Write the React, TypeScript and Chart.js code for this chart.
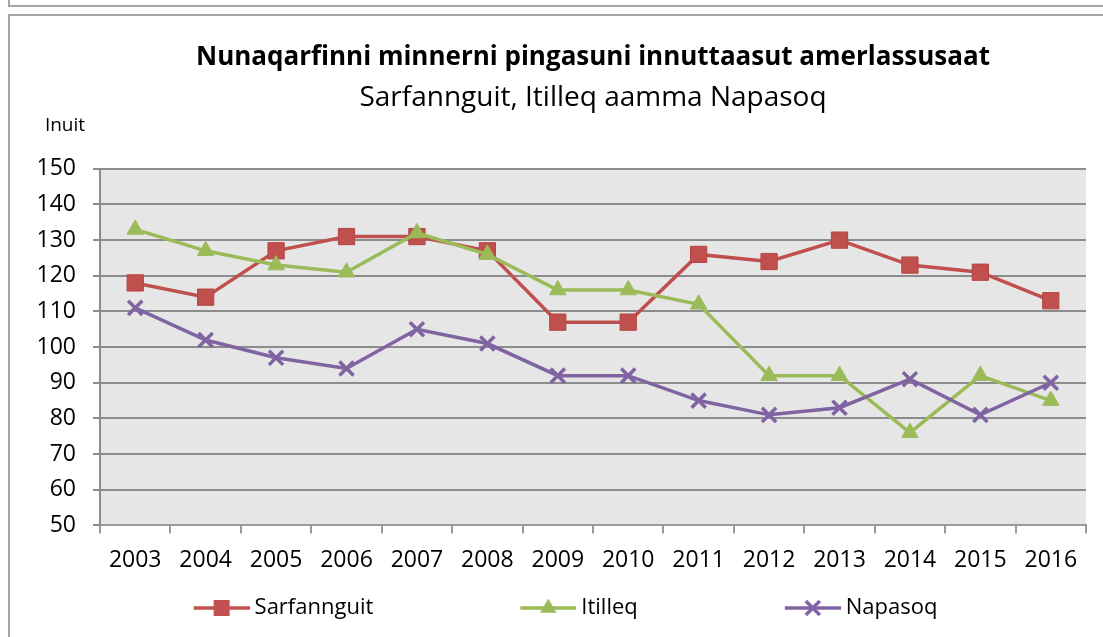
import React, { useEffect, useRef } from "react";
import { Chart, registerables } from "chart.js";

Chart.register(...registerables);

const years = ["2003", "2004", "2005", "2006", "2007", "2008", "2009", "2010", "2011", "2012", "2013", "2014", "2015", "2016"];
const sarfannguit = [118, 114, 127, 131, 131, 127, 107, 107, 126, 124, 130, 123, 121, 113];
const itilleq = [133, 127, 123, 121, 132, 126, 116, 116, 112, 92, 92, 76, 92, 85];
const napasoq = [111, 102, 97, 94, 105, 101, 92, 92, 85, 81, 83, 91, 81, 90];
const seriesNames = ["Sarfannguit", "Itilleq", "Napasoq"];
const yMin = 50;
const yMax = 150;
const yStep = 10;
const titleText = "Nunaqarfinni minnerni pingasuni innuttaasut amerlassusaat";
const subtitleText = "Sarfannguit, Itilleq aamma Napasoq";
const yUnitText = "Inuit";

const FONT = "'Open Sans', 'Noto Sans', sans-serif";
const RED = "#C0504D";
const GREEN = "#9BBB59";
const PURPLE = "#8064A2";

const LEG_BOX = 187; // pointStyleWidth
const ICON_LEN = 56;

function drawMarker(ctx: CanvasRenderingContext2D, kind: string, x: number, y: number, color: string) {
  ctx.save();
  ctx.fillStyle = color;
  ctx.strokeStyle = color;
  if (kind === "rect") {
    const s = 8;
    ctx.fillRect(x - s, y - s, 2 * s, 2 * s);
  } else if (kind === "triangle") {
    const r = 9.5;
    ctx.beginPath();
    ctx.moveTo(x, y - r);
    ctx.lineTo(x + r * 0.866, y + r * 0.5);
    ctx.lineTo(x - r * 0.866, y + r * 0.5);
    ctx.closePath();
    ctx.fill();
  } else {
    const r = 7;
    ctx.lineWidth = 3.5;
    ctx.beginPath();
    ctx.moveTo(x - r, y - r);
    ctx.lineTo(x + r, y + r);
    ctx.moveTo(x + r, y - r);
    ctx.lineTo(x - r, y + r);
    ctx.stroke();
  }
  ctx.restore();
}

function makeIcon(kind: string, color: string): HTMLCanvasElement {
  const w = LEG_BOX + 12;
  const h = 22;
  const c = document.createElement("canvas");
  c.width = w;
  c.height = h;
  const ctx = c.getContext("2d")!;
  ctx.strokeStyle = color;
  ctx.lineWidth = 3.5;
  ctx.beginPath();
  ctx.moveTo(w - ICON_LEN, h / 2);
  ctx.lineTo(w, h / 2);
  ctx.stroke();
  drawMarker(ctx, kind, w - ICON_LEN / 2, h / 2, color);
  return c;
}

const plotBg = {
  id: "plotBg",
  beforeDraw(chart: any) {
    const { ctx, chartArea } = chart;
    ctx.save();
    ctx.fillStyle = "#E6E6E6";
    ctx.fillRect(chartArea.left, chartArea.top, chartArea.right - chartArea.left, chartArea.bottom - chartArea.top);
    ctx.restore();
  },
};

const unitLabel = {
  id: "unitLabel",
  afterDraw(chart: any) {
    const { ctx, chartArea } = chart;
    ctx.save();
    ctx.font = `19px ${FONT}`;
    ctx.fillStyle = "#000";
    ctx.textAlign = "center";
    ctx.textBaseline = "middle";
    ctx.fillText(yUnitText, chartArea.left - 35, chartArea.top - 43);
    ctx.restore();
  },
};

export default function App() {
  const ref = useRef<HTMLCanvasElement>(null);

  useEffect(() => {
    document.body.style.margin = "0";
    const kinds = ["rect", "triangle", "crossRot"];
    const colors = [RED, GREEN, PURPLE];
    const icons = kinds.map((k, i) => makeIcon(k, colors[i]));

    const chart = new Chart(ref.current!, {
      type: "line",
      data: {
        labels: years,
        datasets: [
          {
            label: seriesNames[0],
            data: sarfannguit,
            borderColor: RED,
            backgroundColor: RED,
            borderWidth: 3.5,
            pointStyle: "rect",
            pointRadius: 11.5,
            pointBorderColor: "#B64440",
            pointBorderWidth: 1,
            pointBackgroundColor: RED,
            order: 3,
          },
          {
            label: seriesNames[1],
            data: itilleq,
            borderColor: GREEN,
            backgroundColor: GREEN,
            borderWidth: 3.5,
            pointStyle: "triangle",
            pointRadius: 9.5,
            pointBorderWidth: 1,
            pointBorderColor: GREEN,
            pointBackgroundColor: GREEN,
            order: 2,
          },
          {
            label: seriesNames[2],
            data: napasoq,
            borderColor: PURPLE,
            backgroundColor: PURPLE,
            borderWidth: 3.5,
            pointStyle: "crossRot",
            pointRadius: 10,
            pointBorderWidth: 3.5,
            pointBorderColor: PURPLE,
            order: 1,
          },
        ],
      },
      options: {
        responsive: false,
        animation: false,
        devicePixelRatio: 1,
        layout: { padding: { left: 0, right: 17, top: 0, bottom: 8 } },
        elements: { line: { tension: 0 } },
        scales: {
          x: {
            type: "category",
            offset: true,
            grid: {
              display: true,
              drawOnChartArea: false,
              drawTicks: true,
              tickLength: 8,
              color: "#9A9A9A",
              lineWidth: 2,
              offset: true,
            },
            border: { display: true, color: "#9A9A9A", width: 2 },
            ticks: {
              color: "#000",
              padding: 13,
              maxRotation: 0,
              autoSkip: false,
              font: { family: FONT, size: 23 },
            },
          },
          y: {
            min: yMin,
            max: yMax,
            afterFit(scale: any) {
              scale.width = 192;
            },
            grid: {
              color: "#8C8C8C",
              lineWidth: 2,
              tickLength: 7,
              drawTicks: true,
            },
            border: { display: true, color: "#8C8C8C", width: 2 },
            ticks: {
              stepSize: yStep,
              color: "#000",
              padding: 17,
              font: { family: FONT, size: 23 },
            },
          },
        },
        plugins: {
          title: {
            display: true,
            text: titleText,
            fullSize: false,
            color: "#000",
            font: { family: FONT, size: 26, weight: "bold", lineHeight: 1.2 },
            padding: { top: 26, bottom: 0 },
          },
          subtitle: {
            display: true,
            text: subtitleText,
            fullSize: false,
            color: "#000",
            font: { family: FONT, size: 28, weight: "normal", lineHeight: 1.2 },
            padding: { top: 8, bottom: 54 },
          },
          legend: {
            display: true,
            position: "bottom",
            align: "center",
            labels: {
              usePointStyle: true,
              pointStyleWidth: LEG_BOX,
              padding: 10,
              color: "#000",
              font: { family: FONT, size: 22 },
              sort: (a: any, b: any) => a.datasetIndex - b.datasetIndex,
              generateLabels: () =>
                seriesNames.map((name, i) => ({
                  text: name,
                  datasetIndex: i,
                  pointStyle: icons[i],
                  fillStyle: colors[i],
                  strokeStyle: colors[i],
                  lineWidth: 0,
                  fontColor: "#000",
                  hidden: false,
                })),
            },
          },
          tooltip: { enabled: false },
        },
      },
      plugins: [plotBg, unitLabel],
    } as any);
    return () => chart.destroy();
  }, []);

  const border = "2px solid #A6A6A6";
  return (
    <div style={{ position: "fixed", left: 0, top: 0, width: 1103, height: 637, overflow: "hidden", background: "#fff" }}>
      <div style={{ position: "absolute", left: 8, top: -20, width: 1200, height: 27, border, boxSizing: "border-box" }} />
      <div style={{ position: "absolute", left: 8, top: 14, width: 1200, height: 700, border, boxSizing: "border-box" }} />
      <canvas ref={ref} width={1195} height={621} style={{ position: "absolute", left: -92, top: 16, width: 1195, height: 621 }} />
    </div>
  );
}
